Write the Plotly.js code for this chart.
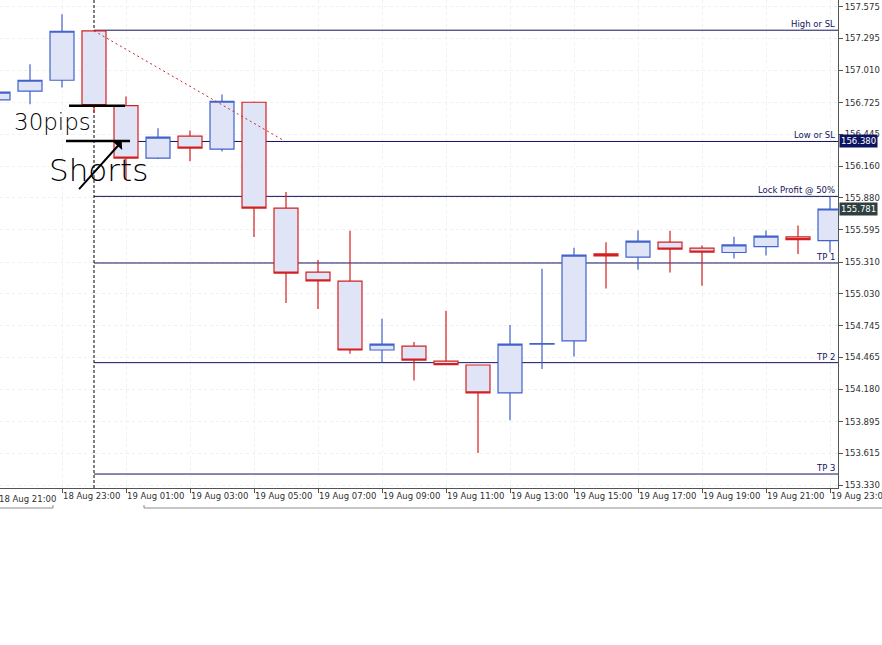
<!DOCTYPE html>
<html>
<head>
<meta charset="utf-8">
<script src="https://cdn.plot.ly/plotly-3.0.1.min.js"></script>
<style>html,body{margin:0;padding:0;background:#fff;}#chart{width:882px;height:645px;}</style>
</head>
<body>
<div id="chart"></div>
<script>
// ---- Data (hourly bars) ----
const times = ['18 Aug 21:00','18 Aug 22:00','18 Aug 23:00','19 Aug 00:00','19 Aug 01:00','19 Aug 02:00','19 Aug 03:00',
  '19 Aug 04:00','19 Aug 05:00','19 Aug 06:00','19 Aug 07:00','19 Aug 08:00','19 Aug 09:00','19 Aug 10:00','19 Aug 11:00',
  '19 Aug 12:00','19 Aug 13:00','19 Aug 14:00','19 Aug 15:00','19 Aug 16:00','19 Aug 17:00','19 Aug 18:00','19 Aug 19:00',
  '19 Aug 20:00','19 Aug 21:00','19 Aug 22:00','19 Aug 23:00'];
const openP  = [156.749,156.826,156.923,157.361,156.698,156.232,156.427,156.312,156.728,155.789,155.221,155.142,154.530,154.565,
  154.432,154.397,154.149,154.583,154.612,155.384,155.354,155.487,155.434,155.395,155.448,155.534,155.501];
const highP  = [156.870,157.065,157.509,157.367,156.778,156.498,156.477,156.796,156.735,155.931,155.328,155.587,154.807,154.601,
  154.878,154.400,154.751,155.251,155.437,155.487,155.590,155.587,155.457,155.534,155.590,155.634,155.892];
const lowP   = [156.720,156.711,156.858,156.634,156.040,156.225,156.205,156.290,155.532,154.947,154.893,154.497,154.420,154.260,
  154.395,153.617,153.906,154.361,154.473,155.076,155.242,155.218,155.100,155.342,155.369,155.381,155.395];
const closeP = [156.817,156.923,157.358,156.698,156.232,156.418,156.321,156.737,155.789,155.212,155.144,154.530,154.583,154.441,
  154.400,154.149,154.583,154.586,155.372,155.366,155.496,155.425,155.399,155.463,155.540,155.510,155.781];

// price-axis ticks
const priceTicks = [153.330,153.615,153.895,154.180,154.465,154.745,155.030,155.310,155.595,155.880,156.160,156.445,156.725,157.010,157.295,157.575];

// horizontal levels
const levelNames  = ['High or SL','Low or SL','Lock Profit @ 50%','TP 1','TP 2','TP 3'];
const levelPrices = [157.367,156.380,155.893,155.302,154.418,153.430];

// price boxes on the axis
const boxPrices = [156.380,155.781];
const boxColors = ['#0b1460','#2d3f3f'];

// trend line (dotted red)
const trendX = [3, 8.92];
const trendY = [157.362, 156.390];

// day separator (bar index of 19 Aug 00:00)
const sepIndex = 3;

const idx = times.map((t,i)=>i);
const tickIdx = idx.filter(i => i % 2 === 0 && i > 0);

const FONT = 'DejaVu Sans';
const NAVY = '#13135e';

const traces = [
  {type:'scatter', mode:'lines', x:trendX, y:trendY, hoverinfo:'skip',
   line:{color:'#c82828', width:1, dash:'2px,3px'}},
  {type:'candlestick', x:idx, open:openP, high:highP, low:lowP, close:closeP,
   whiskerwidth:0, hoverinfo:'skip',
   increasing:{line:{color:'#4262cc', width:1.2}, fillcolor:'#e0e4f7'},
   decreasing:{line:{color:'#d41f1f', width:1.2}, fillcolor:'#e0e4f7'}}
];

const shapes = [];
// day separator
shapes.push({type:'line', xref:'x', yref:'paper', x0:sepIndex, x1:sepIndex, y0:0, y1:1,
  line:{color:'#000', width:1, dash:'3px,2px'}, layer:'between'});
// level lines
levelPrices.forEach(p => shapes.push({type:'line', xref:'x', yref:'y', x0:sepIndex, x1:26.25, y0:p, y1:p,
  line:{color:NAVY, width:1}, layer:'between'}));
// hand-drawn lines
shapes.push({type:'line', xref:'x', yref:'y', x0:2.22, x1:3.97, y0:156.696, y1:156.696, line:{color:'#000', width:2.5}, layer:'above'});
shapes.push({type:'line', xref:'x', yref:'y', x0:2.125, x1:4.125, y0:156.385, y1:156.385, line:{color:'#000', width:2.5}, layer:'above'});
// bottom frame / tab
const fy = -20/488;
shapes.push({type:'line', xref:'paper', yref:'paper', x0:0, x1:53/838, y0:fy, y1:fy, line:{color:'#8c8c8c', width:1}});
shapes.push({type:'line', xref:'paper', yref:'paper', x0:144/838, x1:882/838, y0:fy, y1:fy, line:{color:'#8c8c8c', width:1}});
shapes.push({type:'line', xref:'paper', yref:'paper', x0:53/838, x1:53/838, y0:fy, y1:fy+3/488, line:{color:'#8c8c8c', width:1}});
shapes.push({type:'line', xref:'paper', yref:'paper', x0:144/838, x1:144/838, y0:fy, y1:fy+3/488, line:{color:'#8c8c8c', width:1}});

const annotations = [];
levelNames.forEach((n,i) => annotations.push({xref:'paper', yref:'y', x:1, y:levelPrices[i], xanchor:'right', yanchor:'bottom',
  text:n, showarrow:false, font:{family:FONT, size:8.5, color:NAVY}, xshift:-1, yshift:-1}));
boxPrices.forEach((p,i) => annotations.push({xref:'paper', yref:'y', x:1, y:p, xanchor:'left', yanchor:'middle',
  text:p.toFixed(3), showarrow:false, bgcolor:boxColors[i], borderpad:1, xshift:1,
  font:{family:FONT, size:8.5, color:'#ffffff'}}));
// first time label (bar sits at the left border)
annotations.push({xref:'paper', yref:'paper', x:0, y:0, xanchor:'left', yanchor:'top', xshift:-3, yshift:-4,
  text:times[0], showarrow:false, font:{family:FONT, size:8.5, color:'#303030'}});
// handwriting
annotations.push({xref:'x', yref:'y', x:1.6875, y:156.554, text:'30pips', showarrow:false,
  font:{family:FONT, size:23, weight:200, color:'#000'}});
annotations.push({xref:'x', yref:'y', x:3.156, y:156.128, text:'Shorts', showarrow:false,
  font:{family:FONT, size:31, weight:200, color:'#000'}});
annotations.push({xref:'x', yref:'y', x:3.866, y:156.379, text:'', showarrow:true, ax:-44, ay:49,
  arrowhead:1, arrowsize:1, arrowwidth:2, arrowcolor:'#000'});

const layout = {
  width:882, height:645,
  margin:{l:0, r:44, t:0, b:157, pad:0},
  paper_bgcolor:'#fff', plot_bgcolor:'#fff',
  showlegend:false, boxgap:0.25, boxgroupgap:0,
  font:{family:FONT, size:8.5, color:'#303030'},
  xaxis:{range:[0.0625, 26.25], tickmode:'array', tickvals:tickIdx, ticktext:tickIdx.map(i=>times[i]), tickangle:0,
    ticklabelposition:'outside right', ticklabeloverflow:'allow', ticks:'outside', ticklen:4, tickcolor:'#555',
    showline:true, linecolor:'#555', linewidth:1, showgrid:true, gridcolor:'#edf1f4', griddash:'dot',
    zeroline:false, rangeslider:{visible:false}, fixedrange:true, tickfont:{family:FONT, size:8.5, color:'#303030'}},
  yaxis:{side:'right', range:[153.306, 157.635], tickmode:'array', tickvals:priceTicks, tickformat:'.3f',
    ticks:'outside', ticklen:4, tickcolor:'#555', showline:true, linecolor:'#555', linewidth:1,
    showgrid:true, gridcolor:'#edf1f4', griddash:'dot', zeroline:false, fixedrange:true,
    tickfont:{family:FONT, size:8.5, color:'#303030'}},
  shapes:shapes, annotations:annotations
};

Plotly.newPlot('chart', traces, layout, {staticPlot:true, displayModeBar:false});
</script>
</body>
</html>
